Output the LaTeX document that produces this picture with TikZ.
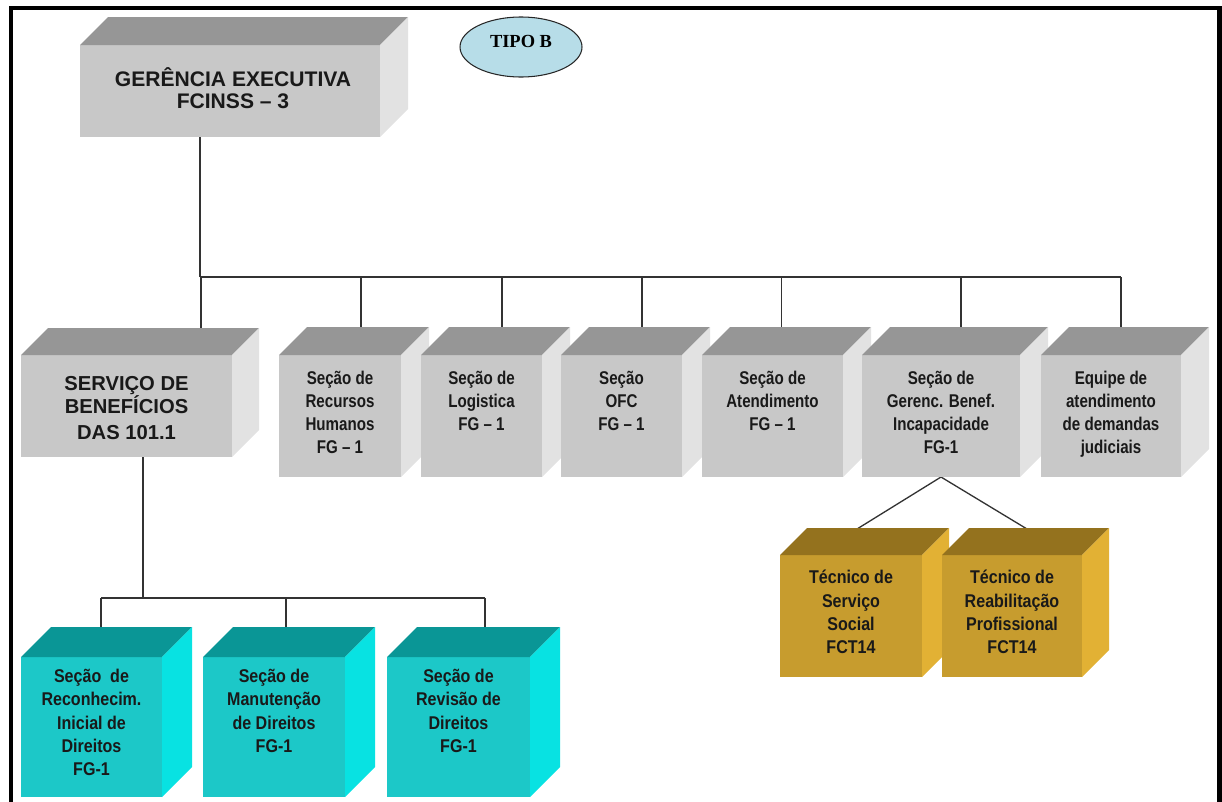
\documentclass[tikz,border=0pt]{standalone}
\usepackage{fontspec}
\setmainfont{Liberation Sans}
\newfontfamily\narrowsans[FakeStretch=0.82]{Liberation Sans}
\newfontfamily\midsans[FakeStretch=0.87]{Liberation Sans}
\newfontfamily\tiposerif{Liberation Serif}
\usetikzlibrary{calc,positioning,backgrounds,shapes.geometric}

\definecolor{grayfront}{RGB}{200,200,200}
\definecolor{graytop}{RGB}{150,150,150}
\definecolor{grayside}{RGB}{226,226,226}
\definecolor{tealfront}{RGB}{28,200,200}
\definecolor{tealtop}{RGB}{10,150,150}
\definecolor{tealside}{RGB}{8,226,226}
\definecolor{goldfront}{RGB}{199,156,46}
\definecolor{goldtop}{RGB}{148,114,30}
\definecolor{goldside}{RGB}{226,177,52}
\definecolor{tipofill}{RGB}{183,221,232}

\tikzset{%
	face/.style     = {rectangle, inner sep=0pt, outer sep=0pt, anchor=north west},
	headtext/.style = {inner sep=0pt, anchor=north, align=center, text=black!90, font=\bfseries\fontsize{12}{12.5}\selectfont},
	boxtext/.style  = {inner sep=0pt, anchor=north, align=center, text=black!90, font=\narrowsans\bfseries\fontsize{10.5}{13}\selectfont},
	colortext/.style= {boxtext, font=\midsans\bfseries\fontsize{10.5}{13.2}\selectfont},
	tipo/.style     = {ellipse, draw=black!85, line width=0.6pt, fill=tipofill, inner sep=0pt, minimum width=122*0.02cm, minimum height=60*0.02cm},
	link/.style     = {draw=black!80, line width=0.75pt},
}

% #1 name, #2 colour, #3 front corner, #4 width, #5 height, #6 depth
\newcommand{\orgcube}[6]{%
	\node[face, fill=#2front, minimum width=#4*0.02cm, minimum height=#5*0.02cm] (#1) at #3 {};
	\fill[#2top] (#1.north west) -- ++(#6,-#6) -- ($(#1.north east)+(#6,-#6)$) -- (#1.north east) -- cycle;
	\fill[#2side] (#1.north east) -- ++(#6,-#6) -- ($(#1.south east)+(#6,-#6)$) -- (#1.south east) -- cycle;
}

\begin{document}
\begin{tikzpicture}[x={(0.02cm,0)}, y={(0,-0.02cm)}]
	\useasboundingbox (0,0) rectangle (1222,801);
	\draw[line width=2.4pt] (11,830) -- (11,8) -- (1219.5,8) -- (1219.5,830);
	
	% top
	\orgcube{ger}{gray}{(80,45)}{300}{92}{28}
	\node[headtext] (ger-txt) at ($(ger.north)+(3,22)$) {GERÊNCIA EXECUTIVA\\FCINSS – 3};
	\node[tipo] (tipo) at (521,47) {};
	\node[font=\tiposerif\bfseries\fontsize{10.5}{12}\selectfont] (tipo-txt) at ($(tipo)+(0,-6)$) {TIPO B};
	
	% second row
	\orgcube{ser}{gray}{(21,355)}{211}{102}{27}
	\node[headtext, font=\bfseries\fontsize{11.5}{13}\selectfont] (ser-txt) at ($(ser.north)+(0,21)$) {SERVIÇO DE\\BENEFÍCIOS\\[2pt]DAS 101.1};
	\orgcube{rh}{gray}{(279,355)}{122}{122}{28}
	\node[boxtext] (rh-txt) at ($(rh.north)+(0,16)$) {Seção de\\Recursos\\Humanos\\FG – 1};
	\orgcube{log}{gray}{(421,355)}{121}{122}{28}
	\node[boxtext] (log-txt) at ($(log.north)+(0,16)$) {Seção de\\Logistica\\FG – 1};
	\orgcube{ofc}{gray}{(561,355)}{121}{122}{28}
	\node[boxtext] (ofc-txt) at ($(ofc.north)+(0,16)$) {Seção\\OFC\\FG – 1};
	\orgcube{ate}{gray}{(702,355)}{141}{122}{28}
	\node[boxtext] (ate-txt) at ($(ate.north)+(0,16)$) {Seção de\\Atendimento\\FG – 1};
	\orgcube{gbi}{gray}{(862,355)}{158}{122}{28}
	\node[boxtext] (gbi-txt) at ($(gbi.north)+(0,16)$) {Seção de\\Gerenc. Benef.\\Incapacidade\\FG-1};
	\orgcube{equ}{gray}{(1041,355)}{140}{122}{28}
	\node[boxtext] (equ-txt) at ($(equ.north)+(0,16)$) {Equipe de\\atendimento\\de demandas\\judiciais};
	
	% tecnicos
	\orgcube{tss}{gold}{(780,555)}{142}{122}{27}
	\node[colortext] (tss-txt) at ($(tss.north)+(0,15)$) {Técnico de\\Serviço\\Social\\FCT14};
	\orgcube{trp}{gold}{(942,555)}{140}{122}{27}
	\node[colortext] (trp-txt) at ($(trp.north)+(0,15)$) {Técnico de\\Reabilitação\\Profissional\\FCT14};
	
	% secoes de beneficios
	\orgcube{rec}{teal}{(21,657)}{141}{140}{30}
	\node[colortext] (rec-txt) at ($(rec.north)+(0,12)$) {Seção \ de\\Reconhecim.\\Inicial de\\Direitos\\FG-1};
	\orgcube{man}{teal}{(203,657)}{142}{140}{30}
	\node[colortext] (man-txt) at ($(man.north)+(0,12)$) {Seção de\\Manutenção\\de Direitos\\FG-1};
	\orgcube{rev}{teal}{(387,657)}{143}{140}{30}
	\node[colortext] (rev-txt) at ($(rev.north)+(0,12)$) {Seção de\\Revisão de\\Direitos\\FG-1};
	
	% connectors
	\begin{scope}[on background layer]
		\coordinate (bus) at (0,277);
		\coordinate (sub) at (0,598);
		\draw[link] ($(ger.south)+(-30,0)$) coordinate (ger-c) -- (ger-c |- bus);
		\foreach \n/\off in {ser/74.5,rh/21,log/20.5,ofc/20.5,ate/9,gbi/20,equ/10}
			\draw[link] ($(\n.north)+(\off,0)$) coordinate (\n-c) -- (\n-c |- bus);
		\draw[link] (ger-c |- bus) -- (equ-c |- bus);
		
		\draw[link] ($(ser.south)+(16.5,0)$) coordinate (ser-d) -- (ser-d |- sub);
		\foreach \n/\off in {rec/9.5,man/12,rev/26.5}
			\draw[link] ($(\n.north)+(\off,0)$) coordinate (\n-c) -- (\n-c |- sub);
		\draw[link] (rec-c |- sub) -- (rev-c |- sub);
		
		\draw[link] (gbi.south) -- ($(tss.north)+(6,-26)$);
		\draw[link] (gbi.south) -- ($(trp.north)+(15,-26)$);
	\end{scope}
\end{tikzpicture}
\end{document}
